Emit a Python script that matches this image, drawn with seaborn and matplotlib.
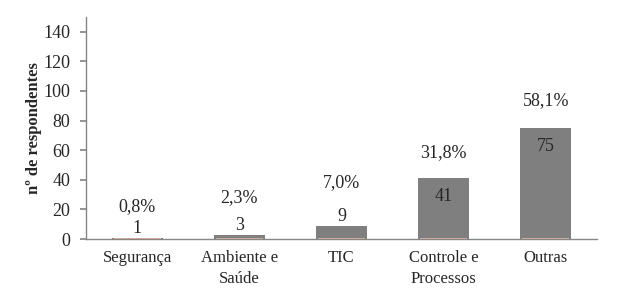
import matplotlib
matplotlib.use("Agg")
import matplotlib.pyplot as plt
import seaborn as sns
import pandas as pd

categories = ["Segurança", "Ambiente e\nSaúde", "TIC", "Controle e\nProcessos", "Outras"]
counts = [1, 3, 9, 41, 75]
percent_labels = ["0,8%", "2,3%", "7,0%", "31,8%", "58,1%"]
base_series = [0.7, 0.7, 0.7, 0.7, 0.7]
pct_label_y = [22, 28, 38, 58.5, 93.5]

sns.set_theme(style="white")
plt.rcParams['font.family'] = ['Liberation Serif', 'DejaVu Serif']

df = pd.DataFrame({"cat": categories, "n": counts, "base": base_series})

fig = plt.figure(figsize=(6.17, 3.06), dpi=100)
ax = fig.add_axes([86/617, (306-239)/306, 511/617, 222/306])

sns.barplot(data=df, x="cat", y="n", color="#7F7F7F", width=0.5, ax=ax,
            saturation=1, edgecolor="none")
sns.barplot(data=df, x="cat", y="base", color="#E3B5A0", width=0.46, ax=ax,
            saturation=1, edgecolor="none")

ax.set_ylim(0, 150)
ax.set_xlim(-0.5, 4.5)
ax.set_yticks(range(0, 141, 20))
ax.set_xlabel("")
ax.set_ylabel("nº de respondentes", fontsize=12, fontweight="bold", labelpad=1)
ax.tick_params(axis="y", labelsize=13, length=4.3, color="#868686", left=True, pad=7)
ax.tick_params(axis="x", labelsize=12, length=0, pad=8)
for lab in ax.get_xticklabels():
    lab.set_linespacing(1.4)
    lab.set_verticalalignment("top")

for s in ["top", "right"]:
    ax.spines[s].set_visible(False)
for s in ["left", "bottom"]:
    ax.spines[s].set_color("#868686")
    ax.spines[s].set_linewidth(1)

for i, (v, p, py) in enumerate(zip(counts, percent_labels, pct_label_y)):
    if v > 20:
        ax.annotate(str(v), (i, v), xytext=(0, -13), textcoords="offset points",
                    ha="center", va="center", fontsize=13)
    else:
        ax.annotate(str(v), (i, v), xytext=(0, 6.5), textcoords="offset points",
                    ha="center", va="center", fontsize=13)
    ax.text(i, py, p, ha="center", va="center", fontsize=13)

fig.savefig("out.png", dpi=100)
